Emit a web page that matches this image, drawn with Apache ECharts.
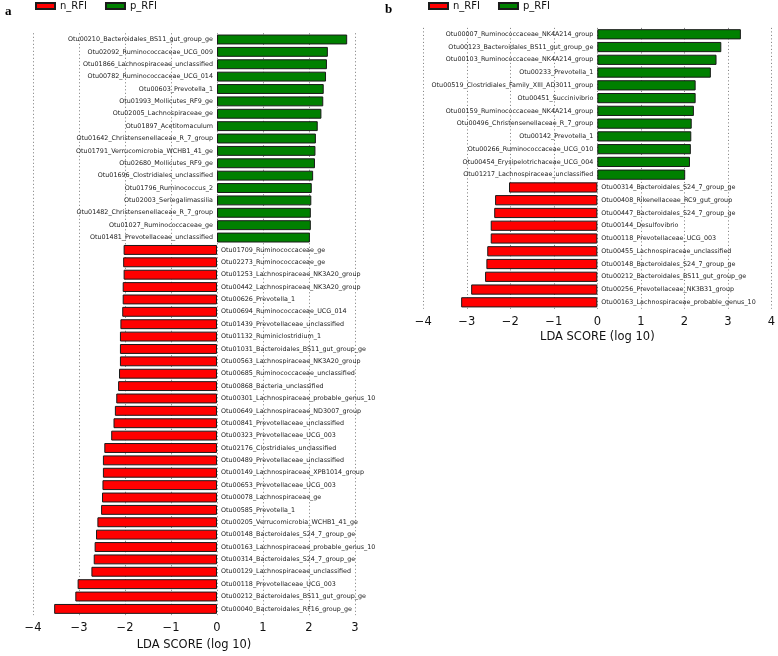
<!DOCTYPE html>
<html>
<head>
<meta charset="utf-8">
<script src="https://cdn.jsdelivr.net/npm/echarts@6/dist/echarts.min.js"></script>
<style>html,body{margin:0;padding:0;background:#fff}#c{width:778px;height:656px}</style>
</head>
<body>
<div id="c"></div>
<script>
// Panel a
const aPosNames = ["Otu00210_Bacteroidales_BS11_gut_group_ge","Otu02092_Ruminococcaceae_UCG_009","Otu01866_Lachnospiraceae_unclassified","Otu00782_Ruminococcaceae_UCG_014","Otu00603_Prevotella_1","Otu01993_Mollicutes_RF9_ge","Otu02005_Lachnospiraceae_ge","Otu01897_Acetitomaculum","Otu01642_Christensenellaceae_R_7_group","Otu01791_Verrucomicrobia_WCHB1_41_ge","Otu02680_Mollicutes_RF9_ge","Otu01696_Clostridiales_unclassified","Otu01796_Ruminococcus_2","Otu02003_Seriegalimassilia","Otu01482_Christensenellaceae_R_7_group","Otu01027_Ruminococcaceae_ge","Otu01481_Prevotellaceae_unclassified"];
const aPosValues = [2.83,2.41,2.39,2.37,2.32,2.31,2.27,2.19,2.15,2.14,2.13,2.09,2.06,2.05,2.04,2.04,2.02];
const aNegNames = ["Otu01709_Ruminococcaceae_ge","Otu02273_Ruminococcaceae_ge","Otu01253_Lachnospiraceae_NK3A20_group","Otu00442_Lachnospiraceae_NK3A20_group","Otu00626_Prevotella_1","Otu00694_Ruminococcaceae_UCG_014","Otu01439_Prevotellaceae_unclassified","Otu01132_Ruminiclostridium_1","Otu01031_Bacteroidales_BS11_gut_group_ge","Otu00563_Lachnospiraceae_NK3A20_group","Otu00685_Ruminococcaceae_unclassified","Otu00868_Bacteria_unclassified","Otu00301_Lachnospiraceae_probable_genus_10","Otu00649_Lachnospiraceae_ND3007_group","Otu00841_Prevotellaceae_unclassified","Otu00323_Prevotellaceae_UCG_003","Otu02176_Clostridiales_unclassified","Otu00489_Prevotellaceae_unclassified","Otu00149_Lachnospiraceae_XPB1014_group","Otu00653_Prevotellaceae_UCG_003","Otu00078_Lachnospiraceae_ge","Otu00585_Prevotella_1","Otu00205_Verrucomicrobia_WCHB1_41_ge","Otu00148_Bacteroidales_S24_7_group_ge","Otu00163_Lachnospiraceae_probable_genus_10","Otu00314_Bacteroidales_S24_7_group_ge","Otu00129_Lachnospiraceae_unclassified","Otu00118_Prevotellaceae_UCG_003","Otu00212_Bacteroidales_BS11_gut_group_ge","Otu00040_Bacteroidales_RF16_group_ge"];
const aNegValues = [-2.03,-2.04,-2.03,-2.05,-2.05,-2.06,-2.10,-2.11,-2.11,-2.11,-2.13,-2.15,-2.19,-2.22,-2.25,-2.30,-2.45,-2.48,-2.48,-2.49,-2.50,-2.52,-2.60,-2.63,-2.66,-2.68,-2.73,-3.03,-3.08,-3.54];
// Panel b
const bPosNames = ["Otu00007_Ruminococcaceae_NK4A214_group","Otu00123_Bacteroidales_BS11_gut_group_ge","Otu00103_Ruminococcaceae_NK4A214_group","Otu00233_Prevotella_1","Otu00519_Clostridiales_Family_XIII_AD3011_group","Otu00451_Succinivibrio","Otu00159_Ruminococcaceae_NK4A214_group","Otu00496_Christensenellaceae_R_7_group","Otu00142_Prevotella_1","Otu00266_Ruminococcaceae_UCG_010","Otu00454_Erysipelotrichaceae_UCG_004","Otu01217_Lachnospiraceae_unclassified"];
const bPosValues = [3.30,2.85,2.74,2.61,2.26,2.26,2.22,2.17,2.16,2.15,2.13,2.02];
const bNegNames = ["Otu00314_Bacteroidales_S24_7_group_ge","Otu00408_Rikenellaceae_RC9_gut_group","Otu00447_Bacteroidales_S24_7_group_ge","Otu00144_Desulfovibrio","Otu00118_Prevotellaceae_UCG_003","Otu00455_Lachnospiraceae_unclassified","Otu00148_Bacteroidales_S24_7_group_ge","Otu00212_Bacteroidales_BS11_gut_group_ge","Otu00256_Prevotellaceae_NK3B31_group","Otu00163_Lachnospiraceae_probable_genus_10"];
const bNegValues = [-2.03,-2.35,-2.37,-2.45,-2.45,-2.53,-2.55,-2.58,-2.90,-3.13];
const xTicksA = [-4,-3,-2,-1,0,1,2,3];
const xTicksB = [-4,-3,-2,-1,0,1,2,3,4];

const RED = '#ff0000', GREEN = '#008000';
const FONT = 'DejaVu Sans';

function build(posNames, posValues, negNames, negValues) {
  const cats = posNames.concat(negNames);
  const pos = cats.map((c, i) => i < posNames.length ? posValues[i] : null);
  const neg = cats.map((c, i) => i >= posNames.length ? negValues[i - posNames.length] : null);
  return {cats, pos, neg};
}
const A = build(aPosNames, aPosValues, aNegNames, aNegValues);
const B = build(bPosNames, bPosValues, bNegNames, bNegValues);

function fmtTick(v) { return v < 0 ? '\u2212' + Math.abs(v) : String(v); }

function xAxis(gi, ticks, nameGap) {
  return {
    type: 'value', gridIndex: gi,
    min: ticks[0], max: ticks[ticks.length - 1], interval: 1,
    name: 'LDA SCORE (log 10)', nameLocation: 'middle', nameGap: nameGap,
    nameTextStyle: {fontFamily: FONT, fontSize: 11.5, color: '#111'},
    axisLine: {show: false}, axisTick: {show: false},
    axisLabel: {formatter: fmtTick, fontFamily: FONT, fontSize: 11.5, color: '#111', margin: 7},
    splitLine: {show: true, lineStyle: {type: [1, 2.5], color: '#555', width: 0.8}}
  };
}
function yAxis(gi, cats) {
  return {
    type: 'category', gridIndex: gi, data: cats, inverse: true,
    axisLine: {show: false}, axisTick: {show: false}, axisLabel: {show: false},
    splitLine: {show: false}
  };
}
function series(name, gi, data, color, pos) {
  return {
    name: name, type: 'bar', xAxisIndex: gi, yAxisIndex: gi, data: data,
    stack: 's' + gi, barWidth: '80%',
    itemStyle: {color: color, borderColor: '#1a1a1a', borderWidth: 1},
    label: {show: true, position: pos, distance: 4,
      formatter: p => p.value == null ? '' : p.name,
      fontFamily: FONT, fontSize: 6.4, color: '#222'},
    emphasis: {disabled: true},
    animation: false
  };
}
const legendCommon = {
  data: ['n_RFI', 'p_RFI'], itemWidth: 19, itemHeight: 6, itemGap: 18, padding: 0,
  textStyle: {fontFamily: FONT, fontSize: 10, color: '#111'}, icon: 'rect',
  selectedMode: false
};

const chart = echarts.init(document.getElementById('c'), null, {renderer: 'canvas'});
chart.setOption({
  backgroundColor: '#fff',
  animation: false,
  title: [
    {text: 'a', left: 0, top: 0, textStyle: {fontFamily: 'Liberation Serif', fontWeight: 'bold', fontSize: 13, color: '#000'}},
    {text: 'b', left: 380, top: -2, textStyle: {fontFamily: 'Liberation Serif', fontWeight: 'bold', fontSize: 13, color: '#000'}}
  ],
  legend: [
    Object.assign({left: 35, top: 1}, legendCommon),
    Object.assign({left: 428, top: 1}, legendCommon)
  ],
  grid: [
    {left: 33, top: 33.3, width: 322, height: 586.4},
    {left: 423.3, top: 27.9, width: 350, height: 280.8}
  ],
  xAxis: [xAxis(0, xTicksA, 21), xAxis(1, xTicksB, 22)],
  yAxis: [yAxis(0, A.cats), yAxis(1, B.cats)],
  series: [
    series('n_RFI', 0, A.neg, RED, 'right'),
    series('p_RFI', 0, A.pos, GREEN, 'left'),
    series('n_RFI', 1, B.neg, RED, 'right'),
    series('p_RFI', 1, B.pos, GREEN, 'left')
  ]
});
</script>
</body>
</html>
